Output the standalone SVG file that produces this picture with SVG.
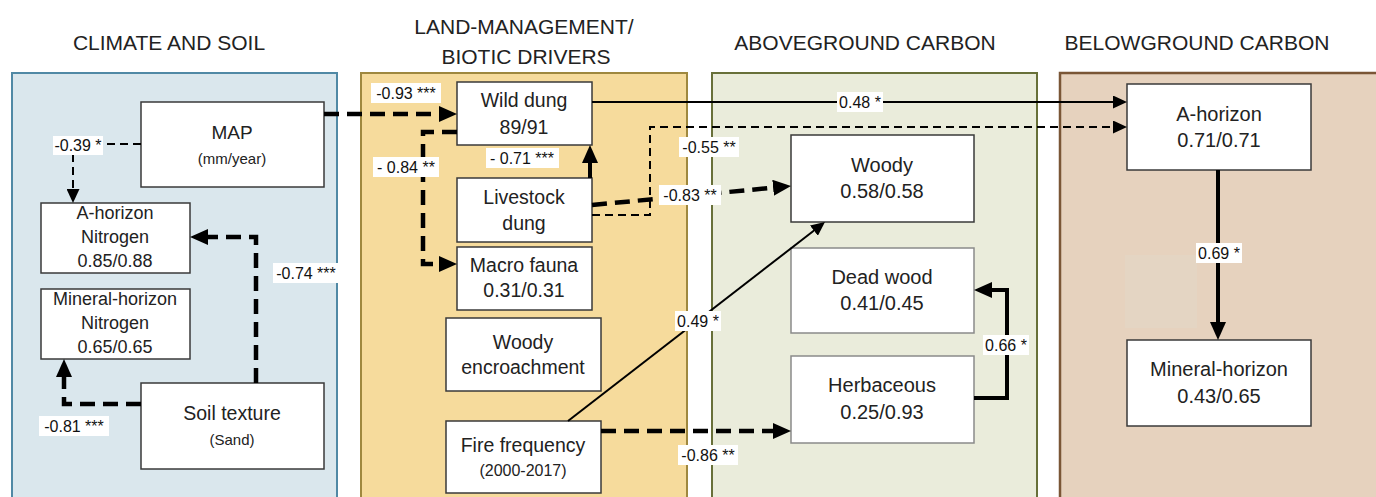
<svg xmlns="http://www.w3.org/2000/svg" width="1376" height="497" viewBox="0 0 1376 497">
<style>
.title{font-family:"Liberation Sans",Arial,sans-serif;font-size:21px;fill:#222;text-anchor:middle}
.nt{font-family:"Liberation Sans",Arial,sans-serif;fill:#222;text-anchor:middle}
.lbl{font-family:"Liberation Sans",Arial,sans-serif;font-size:16px;fill:#111;text-anchor:middle}
.node{fill:#fff;stroke:#3a3a3a;stroke-width:1.5}
.node2{fill:#fff;stroke:#8a8a8a;stroke-width:1.5}
.lb{fill:#fff}
.thd{fill:none;stroke:#000;stroke-width:4.5;stroke-dasharray:15 8}
.tnd{fill:none;stroke:#000;stroke-width:2;stroke-dasharray:8 5}
.ths{fill:none;stroke:#000;stroke-width:4}
.tns{fill:none;stroke:#000;stroke-width:2}
</style>
<defs>
<marker id="at" markerUnits="userSpaceOnUse" markerWidth="18" markerHeight="16" viewBox="0 0 18 16" refX="1" refY="8" orient="auto"><path d="M0,0 L18,8 L0,16 z" fill="#000"/></marker>
<marker id="an" markerUnits="userSpaceOnUse" markerWidth="14" markerHeight="13" viewBox="0 0 14 13" refX="1" refY="6.5" orient="auto"><path d="M0,0 L14,6.5 L0,13 z" fill="#000"/></marker>
</defs>
<rect width="1376" height="497" fill="#fff"/>
<g id="panels">
<rect x="12" y="73" width="325" height="440" fill="#dae7ed" stroke="#5089a5" stroke-width="2"/>
<rect x="361" y="73" width="326" height="440" fill="#f6db9c" stroke="#9f883f" stroke-width="2"/>
<rect x="712" y="73" width="325" height="440" fill="#eaecdb" stroke="#687039" stroke-width="2"/>
<rect x="1060" y="73" width="330" height="440" fill="#e6d2be" stroke="#7a5636" stroke-width="2.5"/>
<rect x="1125" y="255" width="72" height="73" fill="#e4d5c3"/>
</g>
<g id="titles">
<text class="title" x="169" y="50">CLIMATE AND SOIL</text>
<text class="title" x="524" y="34">LAND-MANAGEMENT/</text>
<text class="title" x="526" y="64">BIOTIC DRIVERS</text>
<text class="title" x="865" y="50">ABOVEGROUND CARBON</text>
<text class="title" x="1197" y="50">BELOWGROUND CARBON</text>
</g>
<g id="map"><rect class="node" x="141" y="102" width="183" height="85"/>
<text class="nt" font-size="19" x="232" y="139">MAP</text>
<text class="nt" font-size="15" x="232" y="164">(mm/year)</text></g>
<g id="ahn"><rect class="node" x="41" y="203" width="149" height="70"/>
<text class="nt" font-size="18" x="115" y="219">A-horizon</text>
<text class="nt" font-size="18" x="115" y="243">Nitrogen</text>
<text class="nt" font-size="18" x="115" y="267">0.85/0.88</text></g>
<g id="mhn"><rect class="node" x="41" y="289" width="149" height="70"/>
<text class="nt" font-size="18" x="115" y="305">Mineral-horizon</text>
<text class="nt" font-size="18" x="115" y="329">Nitrogen</text>
<text class="nt" font-size="18" x="115" y="353">0.65/0.65</text></g>
<g id="soil"><rect class="node" x="141" y="383" width="183" height="86"/>
<text class="nt" font-size="19.5" x="232" y="420">Soil texture</text>
<text class="nt" font-size="15" x="232" y="445">(Sand)</text></g>
<g id="wilddung"><rect class="node" x="457" y="82" width="135" height="63"/>
<text class="nt" font-size="19.5" x="524" y="107">Wild dung</text>
<text class="nt" font-size="19.5" x="524" y="134">89/91</text></g>
<g id="livestock"><rect class="node" x="457" y="178" width="135" height="64"/>
<text class="nt" font-size="19.5" x="524" y="204">Livestock</text>
<text class="nt" font-size="19.5" x="524" y="230">dung</text></g>
<g id="macro"><rect class="node" x="457" y="247" width="135" height="63"/>
<text class="nt" font-size="19.5" x="524" y="272">Macro fauna</text>
<text class="nt" font-size="19.5" x="524" y="297">0.31/0.31</text></g>
<g id="encroach"><rect class="node" x="446" y="318" width="155" height="73"/>
<text class="nt" font-size="19.5" x="523" y="349">Woody</text>
<text class="nt" font-size="19.5" x="523" y="374">encroachment</text></g>
<g id="fire"><rect class="node" x="446" y="421" width="155" height="72"/>
<text class="nt" font-size="19.5" x="523" y="452">Fire frequency</text>
<text class="nt" font-size="16" x="523" y="476">(2000-2017)</text></g>
<g id="woody"><rect class="node" x="791" y="135" width="183" height="87"/>
<text class="nt" font-size="20" x="882" y="172">Woody</text>
<text class="nt" font-size="20" x="882" y="198">0.58/0.58</text></g>
<g id="deadwood"><rect class="node2" x="791" y="248" width="183" height="85"/>
<text class="nt" font-size="20" x="882" y="284">Dead wood</text>
<text class="nt" font-size="20" x="882" y="310">0.41/0.45</text></g>
<g id="herb"><rect class="node2" x="791" y="356" width="183" height="87"/>
<text class="nt" font-size="20" x="882" y="392">Herbaceous</text>
<text class="nt" font-size="20" x="882" y="419">0.25/0.93</text></g>
<g id="ahor"><rect class="node" x="1127" y="84" width="184" height="86"/>
<text class="nt" font-size="20" x="1219" y="121">A-horizon</text>
<text class="nt" font-size="20" x="1219" y="147">0.71/0.71</text></g>
<g id="mhor"><rect class="node" x="1127" y="340" width="184" height="86"/>
<text class="nt" font-size="20" x="1219" y="376">Mineral-horizon</text>
<text class="nt" font-size="20" x="1219" y="403">0.43/0.65</text></g>
<g id="connectors">
<path class="tnd" d="M141,144 H73 V190" marker-end="url(#an)"/>
<path class="thd" d="M256,383 V237 H207" marker-end="url(#at)"/>
<path class="thd" d="M141,404 H64 V376" marker-end="url(#at)"/>
<path class="thd" d="M324,114 H440" marker-end="url(#at)"/>
<path class="thd" d="M457,132 H423 V264 H440" marker-end="url(#at)"/>
<path class="ths" d="M590,178 V162" marker-end="url(#at)"/>
<path class="tns" d="M592,102 H1114" marker-end="url(#an)"/>
<path class="tnd" d="M592,215 H650 V127 H1114" marker-end="url(#an)"/>
<path class="thd" d="M592,205 L774.1,187.6" marker-end="url(#at)"/>
<path class="tns" d="M568,421 L814.7,230" marker-end="url(#an)"/>
<path class="thd" d="M601,431 H774" marker-end="url(#at)"/>
<path class="ths" d="M974,398 H1007 V290 H991" marker-end="url(#at)"/>
<path class="ths" d="M1218,170 V323" marker-end="url(#at)"/>
</g>
<g id="labels">
<rect class="lb" x="53" y="136" width="50" height="19"/><text class="lbl" x="78" y="151">-0.39 *</text>
<rect class="lb" x="273" y="263" width="67" height="20"/><text class="lbl" x="306" y="279">-0.74 ***</text>
<rect class="lb" x="39" y="416" width="70" height="20"/><text class="lbl" x="74" y="432">-0.81 ***</text>
<rect class="lb" x="371" y="83" width="70" height="20"/><text class="lbl" x="406" y="99">-0.93 ***</text>
<rect class="lb" x="373" y="157" width="66" height="20"/><text class="lbl" x="406" y="173">- 0.84 **</text>
<rect class="lb" x="486" y="148" width="73" height="20"/><text class="lbl" x="522" y="164">- 0.71 ***</text>
<rect class="lb" x="837" y="92" width="46" height="20"/><text class="lbl" x="860" y="108">0.48 *</text>
<rect class="lb" x="679" y="137" width="60" height="20"/><text class="lbl" x="709" y="153">-0.55 **</text>
<rect class="lb" x="659" y="185" width="62" height="20"/><text class="lbl" x="690" y="201">-0.83 **</text>
<rect class="lb" x="675" y="311" width="46" height="20"/><text class="lbl" x="698" y="327">0.49 *</text>
<rect class="lb" x="678" y="445" width="60" height="20"/><text class="lbl" x="708" y="461">-0.86 **</text>
<rect class="lb" x="983" y="335" width="46" height="20"/><text class="lbl" x="1006" y="351">0.66 *</text>
<rect class="lb" x="1196" y="243" width="46" height="20"/><text class="lbl" x="1219" y="259">0.69 *</text>
</g>
</svg>
